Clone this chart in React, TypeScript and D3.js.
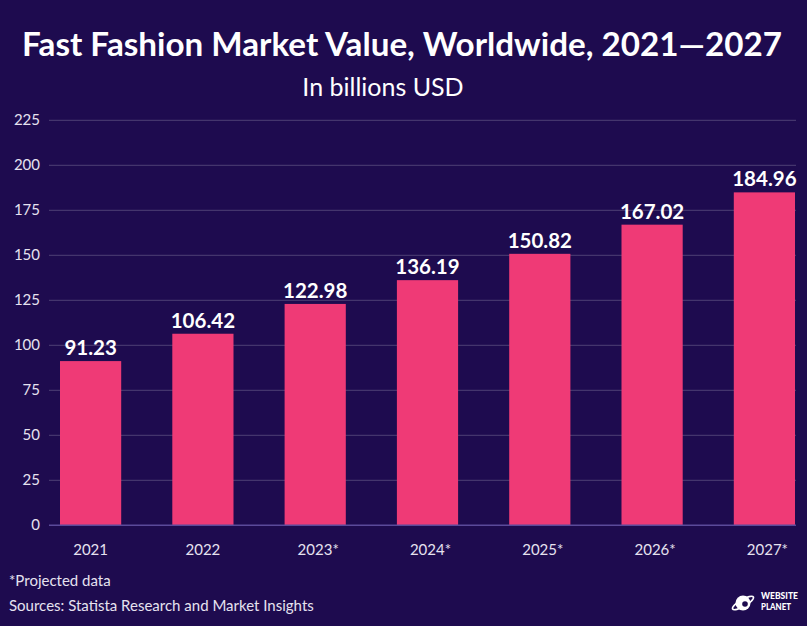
import React from "react";
import * as d3 from "d3";

const categories = ["2021", "2022", "2023*", "2024*", "2025*", "2026*", "2027*"];
const values = [91.23, 106.42, 122.98, 136.19, 150.82, 167.02, 184.96];
const yTicks = [0, 25, 50, 75, 100, 125, 150, 175, 200, 225];

const W = 807;
const H = 626;
const FONT = "Lato, 'Open Sans', sans-serif";

export default function App() {
  const x = d3.scaleBand<string>().domain(categories).range([60, 795]).paddingInner(0.455).paddingOuter(0);
  const y = d3.scaleLinear().domain([0, 225]).range([525.3, 120.3]);

  return (
    <svg width={W} height={H} style={{ position: "absolute", left: 0, top: 0, display: "block" }}>
      <rect x={0} y={0} width={W} height={H} fill="#1e0b4f" />
      <text x={402} y={56} textAnchor="middle" fill="#ffffff" fontFamily={FONT} fontWeight={700} fontSize={33}
        textLength={760} lengthAdjust="spacingAndGlyphs">
        Fast Fashion Market Value, Worldwide, 2021—2027
      </text>
      <text x={383} y={96} textAnchor="middle" fill="#ffffff" fontFamily={FONT} fontSize={25}>
        In billions USD
      </text>
      {yTicks.map((t) => (
        <g key={t}>
          {t !== 0 && <line x1={49} x2={796} y1={y(t)} y2={y(t)} stroke="#ffffff" strokeOpacity={0.22} strokeWidth={1} />}
          <text x={40} y={y(t) + 5} textAnchor="end" fill="#e6e2ef" fontFamily={FONT} fontSize={15}>
            {t}
          </text>
        </g>
      ))}
      {categories.map((c, i) => (
        <g key={c}>
          <rect x={x(c)} y={y(values[i])} width={x.bandwidth()} height={y(0) - y(values[i])} fill="#ef3a76" />
          <text
            x={(x(c) as number) + x.bandwidth() / 2}
            y={y(values[i]) - 6}
            textAnchor="middle"
            fill="#ffffff"
            fontFamily={FONT}
            fontWeight={700}
            fontSize={20.5}
          >
            {values[i].toFixed(2)}
          </text>
          <text
            x={(x(c) as number) + x.bandwidth() / 2 + (c.endsWith("*") ? 3 : 0)}
            y={555}
            textAnchor="middle"
            fill="#e6e2ef"
            fontFamily={FONT}
            fontSize={15}
          >
            {c}
          </text>
        </g>
      ))}
      <line x1={49} x2={796} y1={y(0)} y2={y(0)} stroke="#5b4a9a" strokeWidth={1.5} />
      <text x={9} y={586} fill="#e6e2ef" fontFamily={FONT} fontSize={15}>
        *Projected data
      </text>
      <text x={9} y={611} fill="#e6e2ef" fontFamily={FONT} fontSize={15}>
        Sources: Statista Research and Market Insights
      </text>
      <g transform="translate(743,603)">
        <circle cx={0} cy={0} r={7.5} fill="#ffffff" />
        <ellipse cx={0} cy={0} rx={12} ry={3.5} fill="none" stroke="#ffffff" strokeWidth={1.6} transform="rotate(-30)" />
        <circle cx={2} cy={1} r={2.8} fill="#1e0b4f" />
      </g>
      <text x={761} y={599} fill="#ffffff" fontFamily={FONT} fontWeight={900} fontSize={9} textLength={37} lengthAdjust="spacingAndGlyphs">
        WEBSITE
      </text>
      <text x={761} y={610} fill="#ffffff" fontFamily={FONT} fontWeight={900} fontSize={9} textLength={30} lengthAdjust="spacingAndGlyphs">
        PLANET
      </text>
    </svg>
  );
}
